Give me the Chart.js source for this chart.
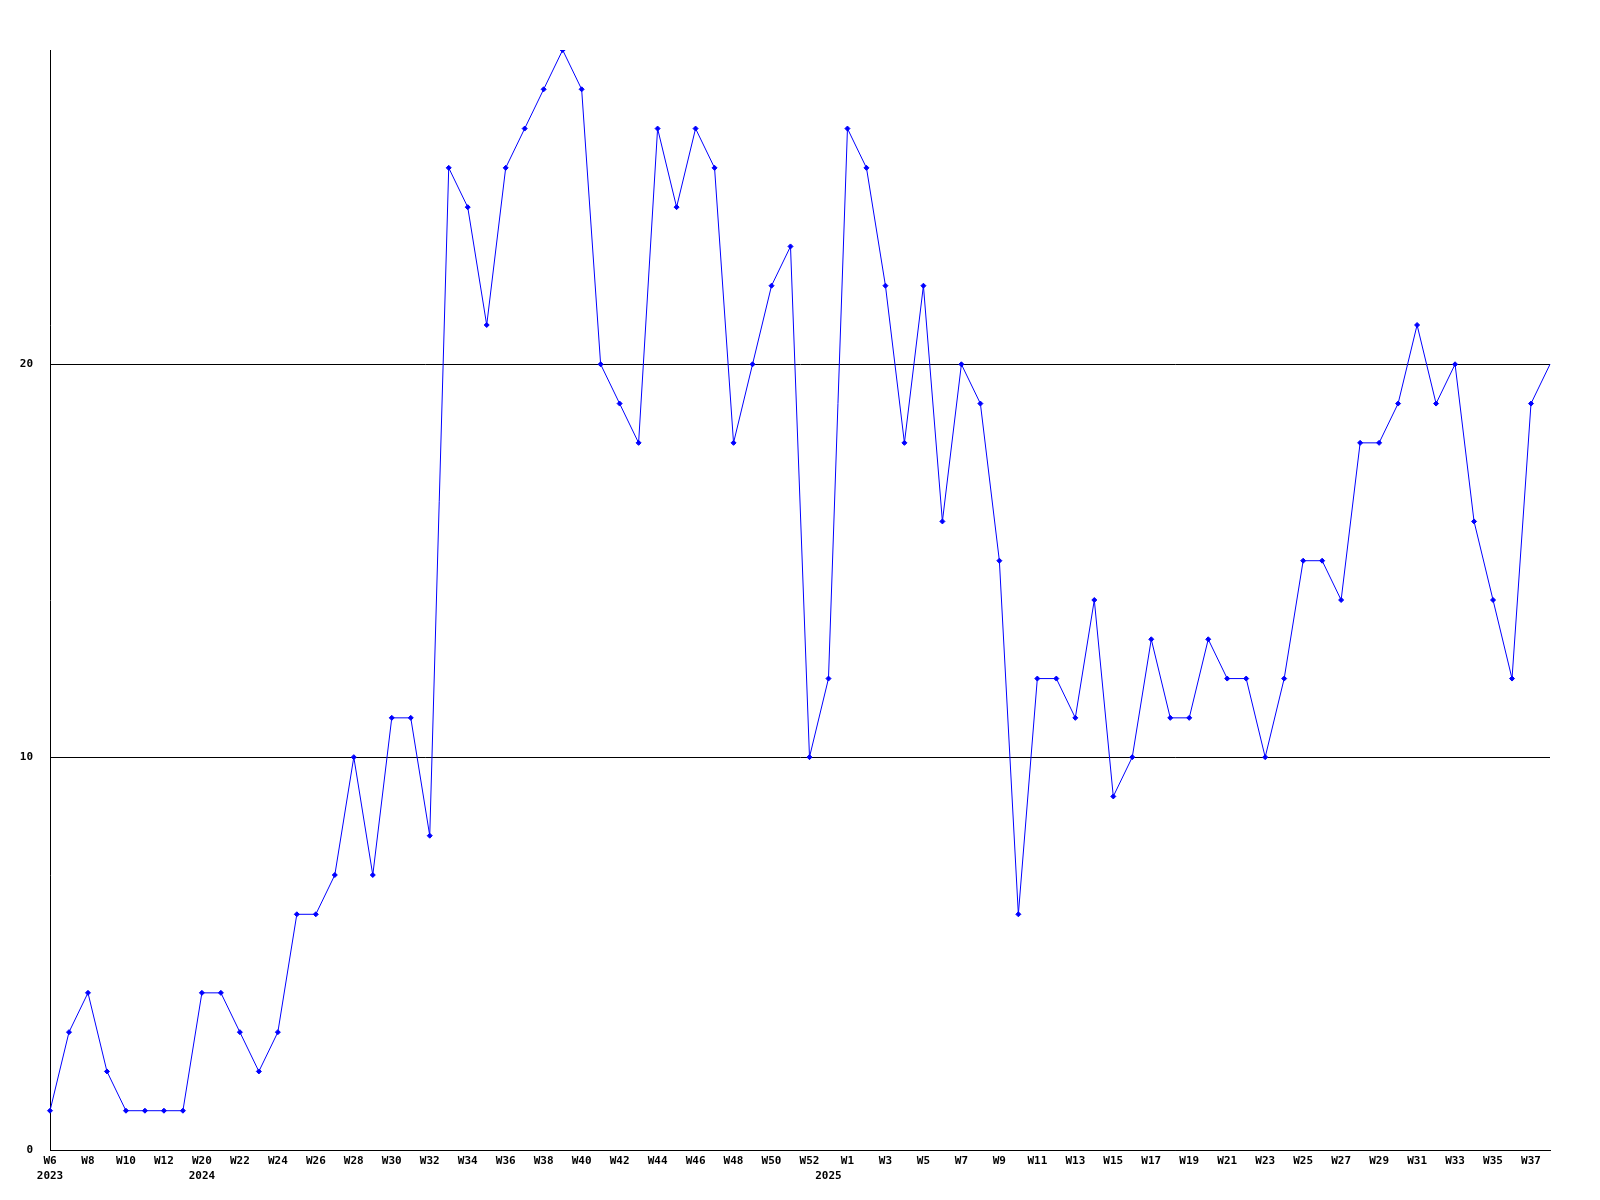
<!DOCTYPE html>
<html>
<head>
<meta charset="utf-8">
<script src="https://cdn.jsdelivr.net/npm/chart.js@4/dist/chart.umd.min.js"></script>
<style>
  html, body { margin: 0; padding: 0; background: #ffffff; }
  #wrap { width: 1600px; height: 1200px; }
</style>
</head>
<body>
<div id="wrap"><canvas id="weekChart" width="1600" height="1200"></canvas></div>
<script>
// week labels, year shown under the first week of each year
const weeks = [
    'W6', 'W7', 'W8', 'W9', 'W10', 'W11', 'W12', 'W13',
    'W20', 'W21', 'W22', 'W23', 'W24', 'W25', 'W26', 'W27', 'W28', 'W29', 'W30', 'W31',
    'W32', 'W33', 'W34', 'W35', 'W36', 'W37', 'W38', 'W39', 'W40', 'W41', 'W42', 'W43',
    'W44', 'W45', 'W46', 'W47', 'W48', 'W49', 'W50', 'W51', 'W52', 'W0',
    'W1', 'W2', 'W3', 'W4', 'W5', 'W6', 'W7', 'W8', 'W9', 'W10', 'W11', 'W12', 'W13',
    'W14', 'W15', 'W16', 'W17', 'W18', 'W19', 'W20', 'W21', 'W22', 'W23', 'W24', 'W25',
    'W26', 'W27', 'W28', 'W29', 'W30', 'W31', 'W32', 'W33', 'W34', 'W35', 'W36', 'W37', 'W38'
];
const yearMarks = { 0: '2023', 8: '2024', 41: '2025' };

const counts = [
    1, 3, 4, 2, 1, 1, 1, 1,
    4, 4, 3, 2, 3, 6, 6, 7, 10, 7, 11, 11,
    8, 25, 24, 21, 25, 26, 27, 28, 27, 20, 19, 18,
    26, 24, 26, 25, 18, 20, 22, 23, 10, 12,
    26, 25, 22, 18, 22, 16, 20, 19, 15, 6, 12, 12, 11,
    14, 9, 10, 13, 11, 11, 13, 12, 12, 10, 12, 15,
    15, 14, 18, 18, 19, 21, 19, 20, 16, 14, 12, 19, 20
];

const yTicks = [0, 10, 20];
const yMax = 28;

const labels = weeks.map((w, i) => yearMarks[i] ? [w, yearMarks[i]] : w);

const tickFont = { family: "'DejaVu Sans Mono', monospace", size: 11, weight: 'bold', lineHeight: 1.36 };

const ctx = document.getElementById('weekChart').getContext('2d');

const chart = new Chart(ctx, {
    type: 'line',
    data: {
        labels: labels,
        datasets: [{
            data: counts,
            borderColor: '#0000ff',
            backgroundColor: '#0000ff',
            borderWidth: 1,
            tension: 0,
            fill: false,
            pointStyle: 'rectRot',
            pointRadius: (c) => c.dataIndex === counts.length - 1 ? 0 : 2.5,
            pointBorderWidth: 1,
            pointBackgroundColor: '#0000ff',
            pointBorderColor: '#0000ff'
        }]
    },
    options: {
        responsive: false,
        animation: false,
        layout: {
            padding: { top: 50, right: 50, left: 0, bottom: 0 }
        },
        plugins: {
            legend: { display: false },
            tooltip: { enabled: false }
        },
        scales: {
            x: {
                offset: false,
                grid: { display: false, drawTicks: false },
                border: { color: '#000000', width: 1 },
                ticks: {
                    autoSkip: false,
                    maxRotation: 0,
                    minRotation: 0,
                    padding: 4,
                    color: '#000000',
                    font: tickFont,
                    callback: function (value, index) {
                        const lab = this.getLabelForValue(value);
                        if (index % 2 === 0) return lab;
                        // odd weeks: only the year line, if any
                        return Array.isArray(lab) ? ['', lab[1]] : '';
                    }
                },
                afterFit: (scale) => { scale.height = 50; }
            },
            y: {
                min: 0,
                max: yMax,
                afterBuildTicks: (scale) => {
                    scale.ticks = yTicks.map(v => ({ value: v }));
                },
                grid: { color: '#000000', lineWidth: 1, drawTicks: false },
                border: { color: '#000000', width: 1 },
                ticks: {
                    padding: 17,
                    color: '#000000',
                    font: tickFont
                },
                afterFit: (scale) => { scale.width = 50; }
            }
        }
    }
});
</script>
</body>
</html>
